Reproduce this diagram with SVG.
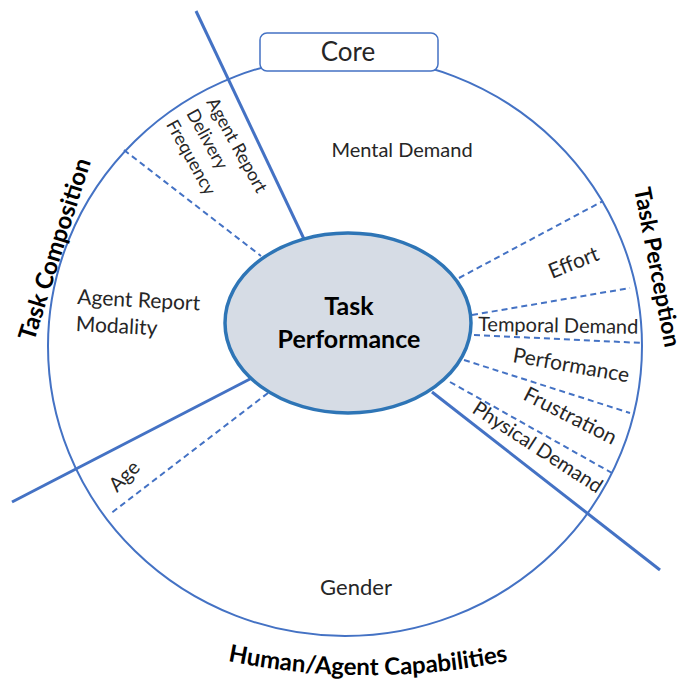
<svg xmlns="http://www.w3.org/2000/svg" width="687" height="685" viewBox="0 0 687 685">
<style>
.ring{fill:none;stroke:#4472c4;stroke-width:2}
.solid{stroke:#4472c4;stroke-width:3;fill:none}
.dash{stroke:#4472c4;stroke-width:2;stroke-dasharray:6 4;fill:none}
.t{font-family:Lato,"Open Sans","Liberation Sans",sans-serif;font-size:20px;fill:#262626}
.b{font-family:Lato,"Open Sans","Liberation Sans",sans-serif;font-weight:bold;font-size:24px;fill:#000}
</style>
<rect width="687" height="685" fill="#fff"/>
<g id="outer-circle">
<ellipse class="ring" cx="345" cy="346" rx="297" ry="290"/>
</g>
<g id="connectors">
<line class="solid" x1="196" y1="11" x2="304" y2="239"/>
<line class="solid" x1="12" y1="502" x2="250" y2="379"/>
<line class="solid" x1="432" y1="392" x2="660" y2="570"/>
<line class="dash" x1="124" y1="150" x2="261" y2="256"/>
<line class="dash" x1="268" y1="393" x2="110" y2="514"/>
<line class="dash" x1="459" y1="278" x2="603" y2="201"/>
<line class="dash" x1="472" y1="315" x2="630" y2="288"/>
<line class="dash" x1="474" y1="335" x2="643" y2="343"/>
<line class="dash" x1="464" y1="360" x2="630" y2="413"/>
<line class="dash" x1="450" y1="382" x2="612" y2="473"/>
</g>
<g id="core">
<rect x="260" y="33" width="178" height="38" rx="7" fill="#fff" stroke="#4472c4" stroke-width="1.5"/>
<text class="t" x="348" y="61" text-anchor="middle" style="font-size:26px">Core</text>
</g>
<g id="task-performance">
<ellipse cx="348" cy="323" rx="123" ry="90" fill="#d6dce5" stroke="#2e75b6" stroke-width="3.5"/>
<text class="b" x="349" y="315" text-anchor="middle" style="font-size:25px">Task</text>
<text class="b" x="349" y="348" text-anchor="middle" style="font-size:25px">Performance</text>
</g>
<g id="mental-demand"><text class="t" x="402" y="157" text-anchor="middle">Mental Demand</text></g>
<g id="agent-report-delivery-frequency">
<text class="t" transform="translate(206,102) rotate(61)" style="font-size:18px">
<tspan x="0" y="0">Agent Report</tspan><tspan x="0" y="23">Delivery</tspan><tspan x="0" y="46">Frequency</tspan></text>
</g>
<g id="agent-report-modality">
<text class="t" transform="translate(77,304) rotate(3)" style="font-size:21px"><tspan x="0" y="0">Agent Report</tspan><tspan x="0" y="27">Modality</tspan></text>
</g>
<g id="age"><text class="t" transform="translate(117,493) rotate(-45)">Age</text></g>
<g id="gender"><text class="t" x="356" y="595" text-anchor="middle" style="font-size:22px">Gender</text></g>
<g id="effort"><text class="t" transform="translate(552,279) rotate(-22)" style="font-size:21px">Effort</text></g>
<g id="temporal-demand"><text class="t" transform="translate(478,331) rotate(1)">Temporal Demand</text></g>
<g id="performance"><text class="t" transform="translate(512,362) rotate(10)" style="font-size:21px">Performance</text></g>
<g id="frustration"><text class="t" transform="translate(522,399) rotate(27)" style="font-size:21px">Frustration</text></g>
<g id="physical-demand"><text class="t" transform="translate(471,412) rotate(33)">Physical Demand</text></g>
<g id="task-composition"><text class="b" transform="translate(34,342) rotate(-72.5)">Task Composition</text></g>
<g id="task-perception"><text class="b" transform="translate(634,189) rotate(79)" style="font-size:23px">Task Perception</text></g>
<g id="human-agent-capabilities">
<defs><path id="arcpath" d="M 168 646 A 700 700 0 0 0 568 646"/></defs>
<text class="b"><textPath href="#arcpath" startOffset="50%" text-anchor="middle">Human/Agent Capabilities</textPath></text>
</g>
</svg>
